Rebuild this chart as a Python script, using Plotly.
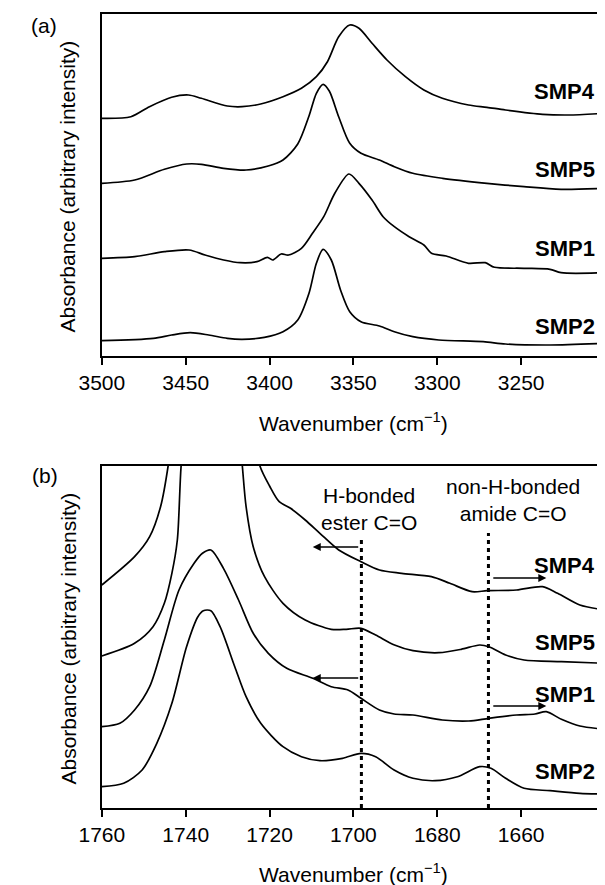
import plotly.graph_objects as go

# ── (a) N–H stretch region, stacked spectra (arbitrary units) ──────────────────
SMP4_A_WN = [3500, 3482.7, 3471.6, 3458.4, 3448.4, 3440.7, 3425.2, 3416.4, 3405.3, 3392,
             3381, 3372.1, 3365.5, 3358.8, 3352.2, 3346.7, 3338.9, 3330, 3319, 3308,
             3297, 3281.4, 3270.4, 3259.3, 3237.2, 3221.7, 3200]
SMP4_A_ABS = [237.7, 239.3, 249.3, 258.7, 261, 257.7, 250, 249.3, 252, 259.3,
              267.7, 279.3, 294.3, 319.3, 331, 327.7, 312.7, 296, 279.3, 266,
              257.7, 251, 248.7, 246, 241.7, 241, 242.7]

SMP5_A_WN = [3500, 3480.4, 3462.7, 3449.4, 3440.6, 3427.4, 3414, 3400.8, 3392, 3383.2,
             3376.5, 3372.1, 3368.1, 3364.4, 3358.8, 3352.2, 3345.5, 3334.5, 3325.6,
             3314.6, 3296.9, 3270.4, 3248.3, 3226.2, 3200]
SMP5_A_ABS = [172.7, 176, 186.7, 192, 191.7, 187.7, 186, 190, 196, 212,
              240, 262.7, 271.7, 265, 239.3, 212.7, 202.7, 196, 189.3,
              182.7, 177.7, 172.7, 169.3, 166.7, 167.7]

SMP1_A_WN = [3500, 3480.4, 3462.7, 3448, 3438.5, 3427.4, 3417.5, 3407.5, 3401.3, 3398.2,
             3393.1, 3388.7, 3381, 3374.4, 3367.7, 3361.1, 3352.7, 3346.7, 3338.9,
             3332.3, 3325.6, 3316.8, 3308, 3303.5, 3294.7, 3281.4, 3271.4, 3265.9,
             3248.3, 3232.8, 3226.2, 3200]
SMP1_A_ABS = [97.7, 99.3, 104.3, 106, 101, 96, 93.3, 94.3, 98.7, 96,
              102, 101, 107.7, 122.7, 139.3, 162.7, 182, 172.7, 156,
              139.3, 129.3, 119.3, 111, 102.7, 100, 92.7, 93.3, 88.7,
              87.7, 86.7, 83.3, 83.3]

SMP2_A_WN = [3500, 3469.3, 3458.4, 3447.3, 3436.3, 3425.2, 3416.4, 3403.1, 3392, 3383.2,
             3376.5, 3372.1, 3368.1, 3363.2, 3357.7, 3352.2, 3345.5, 3334.5, 3325.6,
             3314.6, 3299.1, 3272.6, 3259.3, 3232.8, 3200]
SMP2_A_ABS = [15.3, 17.7, 21, 23.3, 21, 17.7, 16.7, 18.7, 24.3, 36,
              62.7, 92.7, 106.7, 96, 66, 44.3, 34.3, 30, 24.3,
              19.3, 16, 14.3, 12, 11, 12.7]

# ── (b) C=O stretch region ─────────────────────────────────────────────────────
SMP4_B_WN = [1760, 1752.2, 1748.6, 1746, 1744.2, 1742, 1739, 1736, 1734, 1731,
             1728, 1725, 1722.3, 1720, 1717.7, 1715, 1711.5, 1708, 1703.5, 1698.2,
             1693.8, 1688.5, 1681.4, 1677, 1671.7, 1668.1, 1661.1, 1654.9, 1651.3,
             1646, 1640]
SMP4_B_ABS = [223, 251.3, 271.3, 301.3, 342, 420, 540, 610, 620, 590,
              500, 400, 342, 322, 306.3, 299.7, 288, 274.7, 258, 246.3,
              238, 234.7, 231.3, 224.7, 216.3, 217.3, 218, 221.3, 214.7,
              203, 198]

SMP5_B_WN = [1760, 1752.2, 1747.8, 1745.1, 1743.3, 1742, 1741.1, 1739, 1736, 1734,
             1731, 1728, 1726.5, 1725.6, 1723.9, 1721.2, 1716.8, 1711.5, 1705.3,
             1701.7, 1698.2, 1694.7, 1690.2, 1685.8, 1679.6, 1674.3, 1669.9, 1667.7,
             1663.7, 1659.3, 1650.4, 1640]
SMP5_B_ABS = [152, 164.7, 181.3, 204.7, 234.7, 268, 342, 440, 485, 490,
              470, 410, 342, 301.3, 261.3, 231.3, 204.7, 188, 178.7,
              178.7, 179.7, 173, 163, 157.3, 155.3, 158.7, 163, 161.3,
              153, 148, 146.3, 144.7]

SMP1_B_WN = [1760, 1755.7, 1752.2, 1748.6, 1745.1, 1741.6, 1738, 1736, 1734, 1731,
             1727.4, 1723.9, 1720.3, 1715.9, 1709.7, 1705.3, 1701.3, 1698.2, 1693.8,
             1690.3, 1685.8, 1678.8, 1672.5, 1667.7, 1661.1, 1656.7, 1654, 1650.4,
             1646, 1640]
SMP1_B_ABS = [81.3, 84.7, 98, 121.3, 168, 218, 244.7, 254.7, 258, 239.7,
              208, 174.7, 154.7, 139.7, 129.7, 121.3, 118, 109.7, 98,
              94, 93, 88, 87, 89.7, 93, 94, 96.3, 88.7,
              82, 78.7]

SMP2_B_WN = [1760, 1754.8, 1750.4, 1746.9, 1743.3, 1739.8, 1737.1, 1735.8, 1734, 1731.8,
             1728.3, 1725.6, 1722.1, 1716.8, 1712.4, 1708, 1702.6, 1698.2, 1694.7,
             1690.3, 1685.8, 1680.5, 1675.2, 1669.9, 1667.2, 1663.7, 1659.3, 1653.1,
             1646, 1640]
SMP2_B_ABS = [21.3, 24.7, 38, 64.7, 104.7, 161.3, 191.3, 197.3, 197.3, 181.3,
              141.3, 111.3, 84.7, 61.3, 51.3, 47.3, 49.7, 54.7, 51.3,
              38, 29.7, 27.3, 31.3, 41.3, 39.7, 29.7, 19.7, 17.3,
              14.7, 14]

SAMPLES = ["SMP4", "SMP5", "SMP1", "SMP2"]
LABEL_Y_A = [264, 186.5, 107.4, 29.5]
LABEL_Y_B = [243, 166, 114, 37]

TICKS_A = [3500, 3450, 3400, 3350, 3300, 3250]
TICKS_B = [1760, 1740, 1720, 1700, 1680, 1660]

ESTER_WN = 1698.1     # H-bonded ester C=O
AMIDE_WN = 1667.8     # non-H-bonded amide C=O

FONT = "Arial, Liberation Sans, sans-serif"

# page body has an 8px margin -> figure is 8px smaller and everything is laid
# out in window pixels, converted to paper coordinates here
OFF = 8
W, H = 605 - OFF, 885 - OFF


def px(x):
    return (x - OFF) / W


def py(y):
    return 1 - (y - OFF) / H


fig = go.Figure()

series_a = [(SMP4_A_WN, SMP4_A_ABS), (SMP5_A_WN, SMP5_A_ABS),
            (SMP1_A_WN, SMP1_A_ABS), (SMP2_A_WN, SMP2_A_ABS)]
series_b = [(SMP4_B_WN, SMP4_B_ABS), (SMP5_B_WN, SMP5_B_ABS),
            (SMP1_B_WN, SMP1_B_ABS), (SMP2_B_WN, SMP2_B_ABS)]

for xs, ys in series_a:
    fig.add_trace(go.Scatter(x=xs, y=ys, mode="lines", xaxis="x", yaxis="y",
                             line=dict(color="black", width=1.7, shape="spline", smoothing=0.8),
                             showlegend=False, hoverinfo="skip"))
for xs, ys in series_b:
    fig.add_trace(go.Scatter(x=xs, y=ys, mode="lines", xaxis="x2", yaxis="y2",
                             line=dict(color="black", width=1.7, shape="spline", smoothing=0.8),
                             showlegend=False, hoverinfo="skip"))

# dotted marker lines in (b)
for wn, top in [(ESTER_WN, 270), (AMIDE_WN, 275)]:
    fig.add_trace(go.Scatter(x=[wn, wn], y=[0, top], mode="lines", xaxis="x2", yaxis="y2",
                             line=dict(color="black", width=3, dash="4px,4px"),
                             showlegend=False, hoverinfo="skip"))


def text(x, y, s, size=21, **kw):
    return dict(x=x, y=y, xref="paper", yref="paper", text=s, showarrow=False,
                xanchor="center", yanchor="middle",
                font=dict(size=size, color="black"), **kw)


ann = []
for name, y in zip(SAMPLES, LABEL_Y_A):
    ann.append(dict(x=px(597), y=y, xref="paper", yref="y", text=f"<b>{name}</b>",
                    showarrow=False, xanchor="right", yanchor="middle",
                    font=dict(size=22, color="black")))
for name, y in zip(SAMPLES, LABEL_Y_B):
    ann.append(dict(x=px(597), y=y, xref="paper", yref="y2", text=f"<b>{name}</b>",
                    showarrow=False, xanchor="right", yanchor="middle",
                    font=dict(size=22, color="black")))

ann += [
    dict(x=1696.4, y=299.5, xref="x2", yref="y2", text="H-bonded<br>ester C=O",
         showarrow=False, xanchor="center", yanchor="middle",
         font=dict(size=21, color="black")),
    dict(x=1662, y=308.5, xref="x2", yref="y2", text="non-H-bonded<br>amide C=O",
         showarrow=False, xanchor="center", yanchor="middle",
         font=dict(size=21, color="black")),
]

# shift arrows
for y, x0, x1 in [(261, 1698.5, 1709.7), (130, 1698.5, 1709.7),
                  (230, 1667, 1654), (102, 1667, 1654)]:
    ann.append(dict(x=x1, y=y, ax=x0, ay=y, xref="x2", yref="y2", axref="x2", ayref="y2",
                    text="", showarrow=True, arrowhead=2, arrowsize=1,
                    arrowwidth=1.6, arrowcolor="black"))

# panel letters and axis titles
ann += [
    text(px(21.5), py(25), "(a)"),
    text(px(22.5), py(475), "(b)"),
    text(px(47), py(186), "Absorbance (arbitrary intensity)", textangle=-90),
    text(px(47), py(638), "Absorbance (arbitrary intensity)", textangle=-90),
    text(px(343), py(422), "Wavenumber (cm<sup>−1</sup>)"),
    text(px(343), py(873), "Wavenumber (cm<sup>−1</sup>)"),
]

x_dom = [px(81.7), 1]
axis_common = dict(showline=True, linecolor="black", linewidth=1.5, showgrid=False,
                   zeroline=False, ticks="outside", ticklen=7, tickwidth=1.5,
                   tickcolor="black", tickfont=dict(size=21, color="black"))
yaxis_common = dict(range=[0, 342], showticklabels=False, ticks="", showline=True,
                    linecolor="black", linewidth=1.5, showgrid=False, zeroline=False)

fig.update_layout(
    width=W, height=H,
    margin=dict(l=0, r=0, t=0, b=0),
    paper_bgcolor="white", plot_bgcolor="white",
    font=dict(family=FONT, color="black"),
    xaxis=dict(domain=x_dom, range=[3500, 3200], tickvals=TICKS_A,
               mirror=True, anchor="y", **axis_common),
    yaxis=dict(domain=[py(356), py(14)], anchor="x", **yaxis_common),
    xaxis2=dict(domain=x_dom, range=[1760, 1640], tickvals=TICKS_B,
                mirror=True, anchor="y2", **axis_common),
    yaxis2=dict(domain=[py(808), py(466)], anchor="x2", **yaxis_common),
    annotations=ann,
)

fig.write_html("out.html")
